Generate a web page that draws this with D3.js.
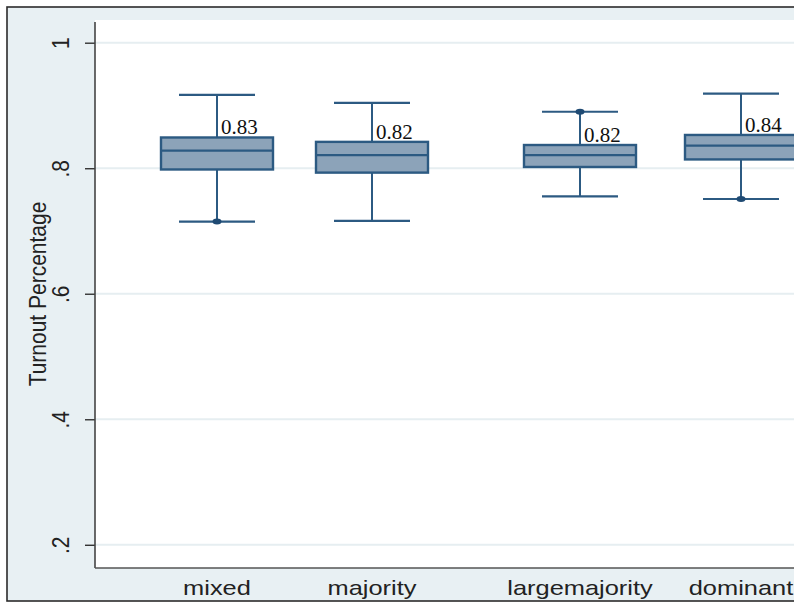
<!DOCTYPE html>
<html>
<head>
<meta charset="utf-8">
<script src="https://cdn.jsdelivr.net/npm/d3@7"></script>
<style>
  html, body { margin: 0; padding: 0; background: #ffffff; }
  svg { display: block; }
</style>
</head>
<body>
<script>
// Turnout by district type: box plots (whiskers, quartiles, median)
const categories  = ["mixed", "majority", "largemajority", "dominant"];
const whiskerLow  = [0.715, 0.716, 0.755, 0.751];
const q1          = [0.798, 0.793, 0.802, 0.814];
const median      = [0.828, 0.821, 0.821, 0.836];
const q3          = [0.849, 0.842, 0.837, 0.853];
const whiskerHigh = [0.917, 0.904, 0.890, 0.919];
// outside values sitting at the whisker ends
const outlierCat  = ["mixed", "largemajority", "dominant"];
const outlierVal  = [0.715, 0.890, 0.751];
const yTicks      = [0.2, 0.4, 0.6, 0.8, 1];

const W = 794, H = 603;
const plot = { left: 95, top: 22, bottom: 568 };

const svg = d3.select("body").append("svg")
  .attr("width", W).attr("height", H);

// outer graph region
svg.append("rect")
  .attr("x", 7).attr("y", 7)
  .attr("width", W + 20).attr("height", 594)
  .attr("fill", "#e8f0f3")
  .attr("stroke", "#2b2b2b").attr("stroke-width", 1.6);

// plot region
svg.append("rect")
  .attr("x", plot.left).attr("y", 20)
  .attr("width", W - plot.left + 10).attr("height", plot.bottom - 20)
  .attr("fill", "#ffffff");

const y = d3.scaleLinear().domain([0.163, 1.033]).range([plot.bottom, plot.top]);
const x = d3.scaleOrdinal().domain(categories).range([217, 372, 580, 741]);

// gridlines
svg.append("g").selectAll("line").data(yTicks).join("line")
  .attr("x1", plot.left).attr("x2", W)
  .attr("y1", d => y(d)).attr("y2", d => y(d))
  .attr("stroke", "#e6eef1").attr("stroke-width", 2);

// y axis
const fmt = d => d === 1 ? "1" : d3.format(".1f")(d).replace(/^0/, "");
const yAxis = svg.append("g")
  .attr("transform", `translate(${plot.left},0)`)
  .call(d3.axisLeft(y).tickValues(yTicks).tickFormat(fmt).tickSize(10).tickSizeOuter(0));
yAxis.select(".domain").remove();
yAxis.selectAll(".tick line").attr("stroke", "#333").attr("stroke-width", 1.4);
yAxis.selectAll(".tick text")
  .attr("transform", "rotate(-90) scale(1,1.1)")
  .attr("x", 0).attr("y", -24).attr("dy", 0)
  .attr("text-anchor", "middle")
  .attr("font-family", "Arial, 'Liberation Sans', sans-serif")
  .attr("font-size", 21)
  .attr("fill", "#222");

// axis lines
svg.append("line")
  .attr("x1", plot.left).attr("x2", plot.left)
  .attr("y1", plot.top).attr("y2", plot.bottom)
  .attr("stroke", "#444").attr("stroke-width", 1.6);
svg.append("line")
  .attr("x1", plot.left).attr("x2", W)
  .attr("y1", plot.bottom).attr("y2", plot.bottom)
  .attr("stroke", "#555").attr("stroke-width", 1.6);

// y title
svg.append("text")
  .attr("transform", `translate(46,294) rotate(-90) scale(1,1.12)`)
  .attr("text-anchor", "middle")
  .attr("font-family", "Arial, 'Liberation Sans', sans-serif")
  .attr("font-size", 21)
  .attr("fill", "#222")
  .text("Turnout Percentage");

// category labels
svg.append("g").selectAll("text").data(categories).join("text")
  .attr("transform", d => `translate(${x(d)},595) scale(1.24,1)`)
  .attr("text-anchor", "middle")
  .attr("font-family", "Arial, 'Liberation Sans', sans-serif")
  .attr("font-size", 20.5)
  .attr("fill", "#222")
  .text(d => d);

// boxes
const boxFill = "#8ca3b9", boxStroke = "#2c5a82";
const boxHalf = 56, capHalf = 38;
const rows = categories.map((c, i) => ({
  c, lo: whiskerLow[i], q1: q1[i], med: median[i], q3: q3[i], hi: whiskerHigh[i]
}));

const g = svg.append("g");
const box = g.selectAll("g.box").data(rows).join("g").attr("class", "box");

// whisker stems
box.append("line")
  .attr("x1", d => x(d.c)).attr("x2", d => x(d.c))
  .attr("y1", d => y(d.hi)).attr("y2", d => y(d.q3))
  .attr("stroke", boxStroke).attr("stroke-width", 2);
box.append("line")
  .attr("x1", d => x(d.c)).attr("x2", d => x(d.c))
  .attr("y1", d => y(d.q1)).attr("y2", d => y(d.lo))
  .attr("stroke", boxStroke).attr("stroke-width", 2);
// caps
box.append("line")
  .attr("x1", d => x(d.c) - capHalf).attr("x2", d => x(d.c) + capHalf)
  .attr("y1", d => y(d.hi)).attr("y2", d => y(d.hi))
  .attr("stroke", boxStroke).attr("stroke-width", 2.2);
box.append("line")
  .attr("x1", d => x(d.c) - capHalf).attr("x2", d => x(d.c) + capHalf)
  .attr("y1", d => y(d.lo)).attr("y2", d => y(d.lo))
  .attr("stroke", boxStroke).attr("stroke-width", 2.2);
// interquartile box
box.append("rect")
  .attr("x", d => x(d.c) - boxHalf).attr("width", boxHalf * 2)
  .attr("y", d => y(d.q3)).attr("height", d => y(d.q1) - y(d.q3))
  .attr("fill", boxFill).attr("stroke", boxStroke).attr("stroke-width", 2.4);
// median
box.append("line")
  .attr("x1", d => x(d.c) - boxHalf).attr("x2", d => x(d.c) + boxHalf)
  .attr("y1", d => y(d.med)).attr("y2", d => y(d.med))
  .attr("stroke", boxStroke).attr("stroke-width", 2.2);
// median value labels
box.append("text")
  .attr("x", d => x(d.c) + 4)
  .attr("y", d => y(d.q3) - 3)
  .attr("font-family", "'Times New Roman', 'Liberation Serif', serif")
  .attr("font-size", 21)
  .attr("fill", "#111")
  .text(d => d3.format(".2f")(d.med));

// outside values, drawn as small flattened markers on the caps
g.selectAll("ellipse").data(outlierCat.map((c, i) => ({ c, v: outlierVal[i] }))).join("ellipse")
  .attr("cx", d => x(d.c)).attr("cy", d => y(d.v))
  .attr("rx", 4.5).attr("ry", 3)
  .attr("fill", "#1f4a73");
</script>
</body>
</html>
